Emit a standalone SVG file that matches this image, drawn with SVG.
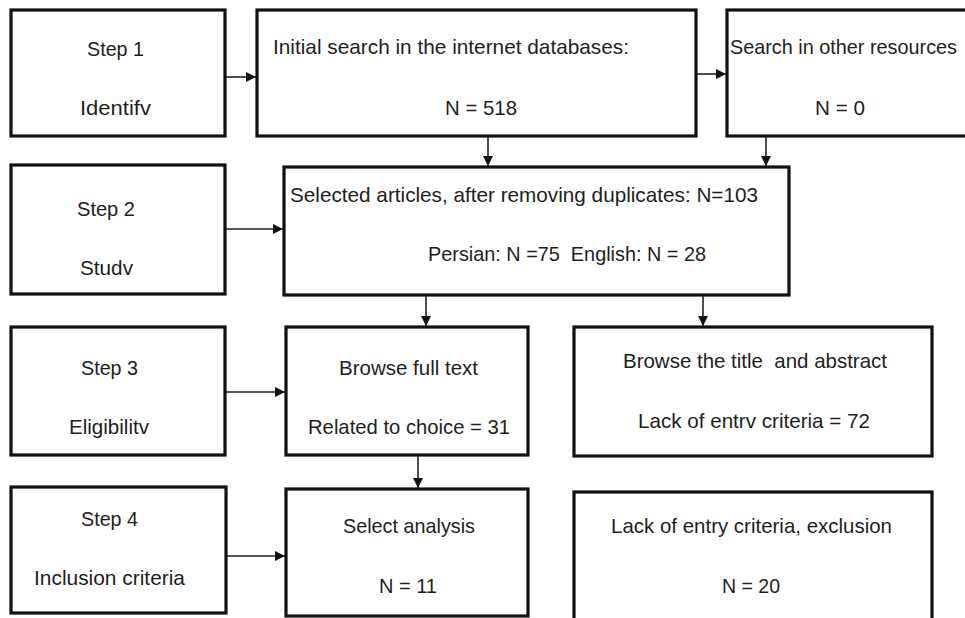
<svg xmlns="http://www.w3.org/2000/svg" width="965" height="618" viewBox="0 0 965 618">
<defs>
<marker id="ah" viewBox="0 0 10 10" refX="10" refY="5" markerWidth="11" markerHeight="10" markerUnits="userSpaceOnUse" orient="auto">
<path d="M0,0 L10,5 L0,10 Z" fill="#111"/>
</marker>
<style>
.box{fill:#fff;stroke:#111;stroke-width:3.2}
.t{font-family:"Liberation Sans",Arial,sans-serif;font-size:21px;fill:#1e1e1e;text-anchor:start}
.c{fill:none;stroke:#222;stroke-width:1.6;marker-end:url(#ah)}
</style>
</defs>
<rect width="965" height="618" fill="#fff"/>
<g id="step1"><rect class="box" x="11" y="10" width="214" height="126"/>
<text class="t" x="87" y="56" textLength="57" lengthAdjust="spacingAndGlyphs">Step 1</text>
<text class="t" x="80" y="115" textLength="71" lengthAdjust="spacingAndGlyphs">Identifv</text></g>
<g id="initial"><rect class="box" x="257" y="10" width="439" height="126"/>
<text class="t" x="273" y="54" textLength="356" lengthAdjust="spacingAndGlyphs">Initial search in the internet databases:</text>
<text class="t" x="445" y="115" textLength="72" lengthAdjust="spacingAndGlyphs">N = 518</text></g>
<g id="other"><rect class="box" x="727" y="10" width="245" height="126"/>
<text class="t" x="730" y="54" textLength="227" lengthAdjust="spacingAndGlyphs">Search in other resources</text>
<text class="t" x="815" y="115" textLength="50" lengthAdjust="spacingAndGlyphs">N = 0</text></g>
<g id="step2"><rect class="box" x="11" y="165" width="214" height="129"/>
<text class="t" x="77" y="216" textLength="58" lengthAdjust="spacingAndGlyphs">Step 2</text>
<text class="t" x="80" y="275" textLength="53" lengthAdjust="spacingAndGlyphs">Studv</text></g>
<g id="selected"><rect class="box" x="284" y="167" width="505" height="128"/>
<text class="t" x="290" y="202" textLength="468" lengthAdjust="spacingAndGlyphs">Selected articles, after removing duplicates: N=103</text>
<text class="t" x="428" y="261" textLength="278" lengthAdjust="spacingAndGlyphs" xml:space="preserve">Persian: N =75  English: N = 28</text></g>
<g id="step3"><rect class="box" x="11" y="327" width="214" height="128"/>
<text class="t" x="81" y="375" textLength="57" lengthAdjust="spacingAndGlyphs">Step 3</text>
<text class="t" x="69" y="434" textLength="80" lengthAdjust="spacingAndGlyphs">Eligibilitv</text></g>
<g id="fulltext"><rect class="box" x="286" y="327" width="242" height="128"/>
<text class="t" x="339" y="375" textLength="139" lengthAdjust="spacingAndGlyphs">Browse full text</text>
<text class="t" x="308" y="434" textLength="202" lengthAdjust="spacingAndGlyphs">Related to choice = 31</text></g>
<g id="titleabstract"><rect class="box" x="574" y="327" width="358" height="129"/>
<text class="t" x="623" y="368" textLength="264" lengthAdjust="spacingAndGlyphs" xml:space="preserve">Browse the title  and abstract</text>
<text class="t" x="638" y="428" textLength="232" lengthAdjust="spacingAndGlyphs">Lack of entrv criteria = 72</text></g>
<g id="step4"><rect class="box" x="11" y="487" width="215" height="126"/>
<text class="t" x="81" y="526" textLength="57" lengthAdjust="spacingAndGlyphs">Step 4</text>
<text class="t" x="34" y="585" textLength="151" lengthAdjust="spacingAndGlyphs">Inclusion criteria</text></g>
<g id="analysis"><rect class="box" x="286" y="489" width="242" height="127"/>
<text class="t" x="343" y="533" textLength="132" lengthAdjust="spacingAndGlyphs">Select analysis</text>
<text class="t" x="379" y="593" textLength="58" lengthAdjust="spacingAndGlyphs">N = 11</text></g>
<g id="exclusion"><rect class="box" x="574" y="492" width="358" height="130"/>
<text class="t" x="611" y="533" textLength="281" lengthAdjust="spacingAndGlyphs">Lack of entry criteria, exclusion</text>
<text class="t" x="722" y="593" textLength="58" lengthAdjust="spacingAndGlyphs">N = 20</text></g>
<g id="connectors">
<line class="c" x1="226" y1="77" x2="256" y2="77"/>
<line class="c" x1="697" y1="74" x2="726" y2="74"/>
<line class="c" x1="488" y1="137" x2="488" y2="166"/>
<line class="c" x1="766" y1="137" x2="766" y2="166"/>
<line class="c" x1="226" y1="229" x2="283" y2="229"/>
<line class="c" x1="426" y1="296" x2="426" y2="326"/>
<line class="c" x1="703" y1="296" x2="703" y2="326"/>
<line class="c" x1="226" y1="392" x2="285" y2="392"/>
<line class="c" x1="418" y1="456" x2="418" y2="488"/>
<line class="c" x1="227" y1="556" x2="285" y2="556"/>
</g>
</svg>
